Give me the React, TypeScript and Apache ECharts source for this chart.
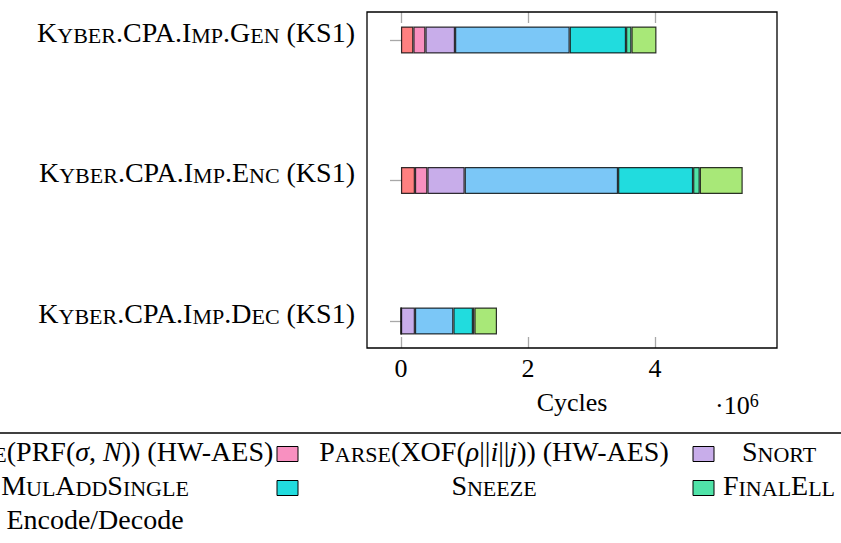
import React, { useEffect, useRef } from "react";
import * as echarts from "echarts";

const categories = [
  "Kyber.CPA.Imp.Gen (KS1)",
  "Kyber.CPA.Imp.Enc (KS1)",
  "Kyber.CPA.Imp.Dec (KS1)",
];

const seriesNames = [
  "Sample(PRF(σ, N)) (HW-AES)",
  "Parse(XOF(ρ||i||j)) (HW-AES)",
  "Snort",
  "MulAddSingle",
  "Sneeze",
  "FinalEll",
  "Encode/Decode",
];

// cycles, per category [Gen, Enc, Dec]
const sampleVals = [195000, 220000, 0];
const parseVals = [190000, 196000, 0];
const snortVals = [466000, 587000, 220000];
const mulAddVals = [1806000, 2415000, 605000];
const sneezeVals = [887000, 1182000, 309000];
const finalEllVals = [85000, 105000, 22000];
const encodeVals = [394000, 676000, 356000];

const seriesValues = [sampleVals, parseVals, snortVals, mulAddVals, sneezeVals, finalEllVals, encodeVals];

const colors = ["#FF8080", "#F890C0", "#C8ADEA", "#7BC7F7", "#21DCDE", "#50E3A8", "#A8E878"];

const xTicks = [0, 2000000, 4000000];
const xMin = -535000;
const xMax = 5921000;

const FONT = "'Liberation Serif', 'Times New Roman', serif";
const FS = 26;
const LFS = 28;
const LFSS = 22;

function sc(s: string): string {
  return s.replace(/([a-z]+)|([^a-z]+)/g, (m: string, low: string) =>
    low ? `{s|${low.toUpperCase()}}` : `{c|${m}}`
  );
}

const rich: any = {
  c: { fontSize: LFS, fontFamily: FONT, color: "#000", verticalAlign: "bottom" },
  s: { fontSize: LFSS, fontFamily: FONT, color: "#000", verticalAlign: "bottom" },
  m: { fontSize: LFS, fontFamily: FONT, color: "#000", fontStyle: "italic", verticalAlign: "bottom" },
};

const legendLabels = [
  sc("Sample") + "{c|(PRF(}{m|σ}{c|, }{m|N}{c|)) (HW-AES)}",
  sc("Parse") + "{c|(XOF(}{m|ρ}{c|||}{m|i}{c|||}{m|j}{c|)) (HW-AES)}",
  sc("Snort"),
  sc("MulAddSingle"),
  sc("Sneeze"),
  sc("FinalEll"),
  "{c|Encode/Decode}",
];

const LEG_Y0 = 454;
const LEG_DY = 34;
const BOX_X = [-139, 277, 693];
const TEXT_CX = [95, 494, 779];

export default function App() {
  const ref = useRef<HTMLDivElement>(null);
  useEffect(() => {
    document.body.style.margin = "0";
    const chart = echarts.init(ref.current!, null, { renderer: "svg" });

    const legendGraphics: any[] = [];
    seriesNames.forEach((name, i) => {
      const row = Math.floor(i / 3);
      const col = i % 3;
      const y = LEG_Y0 + row * LEG_DY;
      legendGraphics.push({
        type: "rect",
        shape: { x: BOX_X[col], y: y - 7.5, width: 21, height: 15 },
        style: { fill: colors[i], stroke: "#000", lineWidth: 1 },
      });
      legendGraphics.push({
        type: "text",
        x: TEXT_CX[col],
        y: y - 3,
        style: {
          text: legendLabels[i],
          rich,
          fontSize: LFS,
          fontFamily: FONT,
          align: "center",
          verticalAlign: "middle",
        },
      });
    });

    const tickStyle = { show: true, inside: true, length: 11, lineStyle: { color: "#a8a8a8", width: 1.3 } };

    chart.setOption({
      animation: false,
      grid: { left: 367, right: 64, top: 40, bottom: 222 },
      xAxis: [
        {
          type: "value",
          position: "bottom",
          offset: 27,
          min: xMin,
          max: xMax,
          axisLine: { show: false },
          splitLine: { show: false },
          axisTick: { ...tickStyle, customValues: xTicks },
          axisLabel: {
            customValues: xTicks,
            formatter: (v: number) => String(v / 1000000),
            fontSize: FS,
            fontFamily: FONT,
            color: "#000",
            margin: 7,
          },
          name: "Cycles",
          nameLocation: "middle",
          nameGap: 41,
          nameTextStyle: { fontSize: FS, fontFamily: FONT, color: "#000" },
        },
        {
          type: "value",
          position: "top",
          offset: 28,
          min: xMin,
          max: xMax,
          axisLine: { show: false },
          splitLine: { show: false },
          axisTick: { ...tickStyle, customValues: xTicks },
          axisLabel: { show: false },
        },
      ],
      yAxis: [
        {
          type: "category",
          data: categories,
          inverse: true,
          boundaryGap: false,
          position: "left",
          axisLine: { show: false },
          axisTick: { ...tickStyle, interval: 0 },
          axisLabel: {
            interval: 0,
            margin: 12,
            padding: [0, 0, 16, 0],
            formatter: (v: string) => sc(v),
            rich,
            fontSize: LFS,
            fontFamily: FONT,
            color: "#000",
          },
        },
        {
          type: "category",
          data: categories,
          inverse: true,
          boundaryGap: false,
          position: "right",
          axisLine: { show: false },
          axisTick: { ...tickStyle, interval: 0 },
          axisLabel: { show: false },
        },
      ],
      series: seriesNames.map((name, i) => ({
        type: "bar",
        name,
        stack: "total",
        data: seriesValues[i],
        barWidth: 27,
        clip: false,
        itemStyle: { color: colors[i], borderColor: "rgba(0,0,0,0.8)", borderWidth: 1.2 },
      })),
      graphic: [
        {
          type: "rect",
          z: 100,
          shape: { x: 367, y: 12, width: 410, height: 336 },
          style: { fill: "none", stroke: "#000", lineWidth: 1.3 },
        },
        {
          type: "line",
          shape: { x1: 0, y1: 433, x2: 841, y2: 433 },
          style: { stroke: "#000", lineWidth: 1.3 },
        },
        {
          type: "text",
          x: 715,
          y: 405,
          style: {
            text: "{a|·10}{b|6}",
            fontSize: FS,
            fontFamily: FONT,
            align: "left",
            verticalAlign: "middle",
            rich: {
              a: { fontSize: FS, fontFamily: FONT, color: "#000", verticalAlign: "bottom" },
              b: { fontSize: 18, fontFamily: FONT, color: "#000", verticalAlign: "top" },
            },
          },
        },
        ...legendGraphics,
      ],
    });
    return () => chart.dispose();
  }, []);
  return (
    <div
      ref={ref}
      style={{ position: "fixed", left: 0, top: 0, width: 841, height: 543, background: "#fff" }}
    />
  );
}
